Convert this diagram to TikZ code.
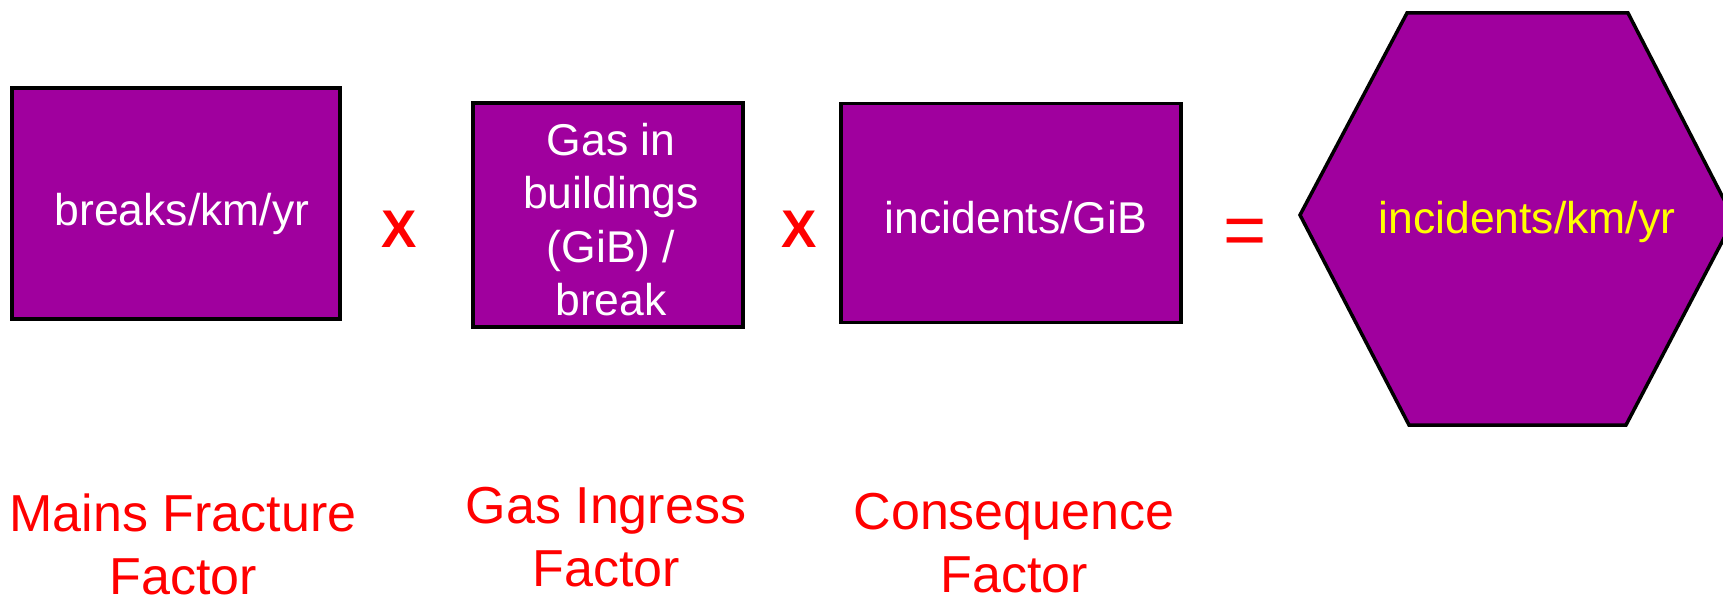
\documentclass[tikz,border=0pt]{standalone}
\usepackage{fontspec}
\setmainfont{Liberation Sans}
\definecolor{boxpurple}{RGB}{160,0,158}
\definecolor{lblred}{RGB}{255,0,0}
\definecolor{hexyellow}{RGB}{255,255,0}
\tikzset{
  box/.style={draw=black, line width=3.5pt, fill=boxpurple, inner sep=0pt, minimum width=#1},
  boxtext/.style={text=white, font=\fontsize{44.5}{53.5}\selectfont, inner sep=0pt, align=center},
  hextext/.style={text=hexyellow, font=\fontsize{44.5}{53.5}\selectfont, inner sep=0pt},
  factor/.style={text=lblred, font=\fontsize{52}{63}\selectfont, inner sep=0pt, align=center},
  opsign/.style={text=lblred, inner sep=0pt}
}
\begin{document}
\begin{tikzpicture}[x=1pt,y=-1pt]
\useasboundingbox (0,0) rectangle (1723,599);
\clip (0,0) rectangle (1723,599);
% boxes
\node[box=328pt, minimum height=231pt] (b1) at (176,203.5) {};
\node[box=270pt, minimum height=224pt] (b2) at (608,215) {};
\node[box=340pt, minimum height=219pt] (b3) at (1011,213) {};
% hexagon
\coordinate (hc) at (1517,219);
\draw[line width=3.5pt, fill=boxpurple, line join=miter]
  (1300,215) -- (1407,13) -- (1628,13) -- (1734,219) -- (1626,425) -- (1409,425) -- cycle;
% box texts
\node[boxtext, anchor=base] (t1) at (182,225) {breaks/km/yr};
\node[boxtext, anchor=north] (t2) at (611,123) {Gas in\\buildings\\(GiB) /\\break};
\node[boxtext, anchor=base] (t3) at (1016,233) {incidents/GiB};
\node[hextext, anchor=base] (t4) at (1527,233) {incidents/km/yr};
% operators
\node[opsign, font=\fontsize{53}{60}\selectfont\bfseries] (x1) at (399,229) {X};
\node[opsign, font=\fontsize{53}{60}\selectfont\bfseries] (x2) at (799,229) {X};
\node[opsign, font=\fontsize{74}{80}\selectfont] (eq) at (1245,237) {=};
% factor labels
\node[factor, anchor=north] (f1) at (183,494) {Mains Fracture\\Factor};
\node[factor, anchor=north] (f2) at (606,487) {Gas Ingress\\Factor};
\node[factor, anchor=north] (f3) at (1014,493) {Consequence\\Factor};
\end{tikzpicture}
\end{document}
